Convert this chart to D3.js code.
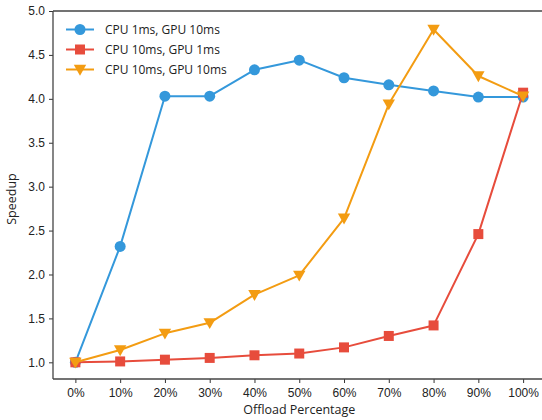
<!DOCTYPE html>
<html>
<head>
<meta charset="utf-8">
<script src="https://d3js.org/d3.v7.min.js"></script>
<style>
  body { margin: 0; background: #fff; }
  svg { display: block; font-family: "Open Sans", sans-serif; }
  .tick text { font-size: 12px; fill: #222; }
  .legend text { font-size: 12px; fill: #222; }
</style>
</head>
<body>
<svg id="chart" width="542" height="420"></svg>
<script>
const offloads = [0, 10, 20, 30, 40, 50, 60, 70, 80, 90, 100];
const cpu1gpu10 = [1.0, 2.32, 4.03, 4.03, 4.33, 4.44, 4.24, 4.16, 4.09, 4.02, 4.02];
const cpu10gpu1 = [1.0, 1.01, 1.03, 1.05, 1.08, 1.10, 1.17, 1.30, 1.42, 2.46, 4.07];
const cpu10gpu10 = [1.0, 1.14, 1.33, 1.45, 1.77, 1.99, 2.64, 3.94, 4.79, 4.26, 4.03];
const yTicks = [1.0, 1.5, 2.0, 2.5, 3.0, 3.5, 4.0, 4.5, 5.0];

const series = [
  { name: 'CPU 1ms, GPU 10ms', values: cpu1gpu10, color: '#3498db', marker: 'circle' },
  { name: 'CPU 10ms, GPU 1ms', values: cpu10gpu1, color: '#e74c3c', marker: 'square' },
  { name: 'CPU 10ms, GPU 10ms', values: cpu10gpu10, color: '#f39c12', marker: 'triangle' }
];

const W = 542, H = 420;
const mLeft = 53, mTop = 11, mBottom = 379;
const svg = d3.select('#chart');

const x = d3.scaleLinear().domain([-5, 105]).range([mLeft, 545.5]);
const y = d3.scaleLinear().domain([0.81, 5.0]).range([mBottom, mTop]);

// axes
const xAxis = svg.append('g')
  .attr('transform', `translate(0,${mBottom})`)
  .call(d3.axisBottom(x).tickValues(offloads).tickFormat(d => d + '%').tickSize(4).tickPadding(5));
const yAxis = svg.append('g')
  .attr('transform', `translate(${mLeft},0)`)
  .call(d3.axisLeft(y).tickValues(yTicks).tickFormat(d3.format('.1f')).tickSize(4).tickPadding(4));
[xAxis, yAxis].forEach(g => {
  g.select('.domain').remove();
  g.selectAll('.tick line').attr('stroke', '#333').attr('stroke-width', 1);
});

// spines (left, bottom, top; right is beyond the frame)
svg.append('line').attr('x1', mLeft).attr('x2', mLeft).attr('y1', mTop).attr('y2', mBottom)
  .attr('stroke', '#444').attr('stroke-width', 1.3);
svg.append('line').attr('x1', mLeft).attr('x2', W).attr('y1', mBottom).attr('y2', mBottom)
  .attr('stroke', '#444').attr('stroke-width', 1.3);
svg.append('line').attr('x1', mLeft).attr('x2', W).attr('y1', mTop).attr('y2', mTop)
  .attr('stroke', '#444').attr('stroke-width', 1.3);

const symbols = {
  circle: d3.symbol().type(d3.symbolCircle).size(95),
  square: d3.symbol().type(d3.symbolSquare).size(100)
};
function drawMarker(g, type, cx, cy, color) {
  if (type === 'triangle') {
    const s = 6.2;
    g.append('path')
      .attr('d', `M${cx - s},${cy - s * 0.75} L${cx + s},${cy - s * 0.75} L${cx},${cy + s * 1.0} Z`)
      .attr('fill', color);
  } else {
    g.append('path')
      .attr('transform', `translate(${cx},${cy})`)
      .attr('d', symbols[type]())
      .attr('fill', color);
  }
}

const line = d3.line().x((d, i) => x(offloads[i])).y(d => y(d));

series.forEach(s => {
  const g = svg.append('g');
  g.append('path').datum(s.values)
    .attr('d', line).attr('fill', 'none')
    .attr('stroke', s.color).attr('stroke-width', 2).attr('stroke-linejoin', 'round');
  s.values.forEach((v, i) => drawMarker(g, s.marker, x(offloads[i]), y(v), s.color));
});

// legend
const legend = svg.append('g').attr('class', 'legend');
series.forEach((s, i) => {
  const ly = 29.5 + i * 20;
  legend.append('line').attr('x1', 66).attr('x2', 94).attr('y1', ly).attr('y2', ly)
    .attr('stroke', s.color).attr('stroke-width', 2);
  drawMarker(legend, s.marker, 80, ly, s.color);
  legend.append('text').attr('x', 105).attr('y', ly).attr('dy', '0.35em').text(s.name);
});

// axis labels
svg.append('text').attr('x', (mLeft + 545.5) / 2).attr('y', 414)
  .attr('text-anchor', 'middle').style('font-size', '12.5px').attr('fill', '#222')
  .text('Offload Percentage');
svg.append('text').attr('transform', `translate(16,${(mTop + mBottom) / 2 + 4}) rotate(-90)`)
  .attr('text-anchor', 'middle').style('font-size', '12.5px').attr('fill', '#222')
  .text('Speedup');
</script>
</body>
</html>
